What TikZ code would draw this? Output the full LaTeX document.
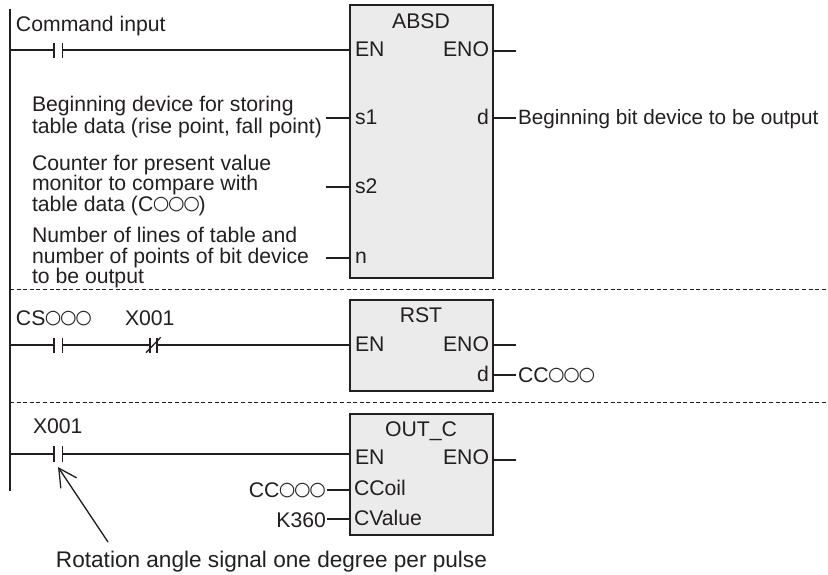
\documentclass[tikz,border=0pt]{standalone}
\usepackage{fontspec}
\setmainfont{Liberation Sans}
\newfontfamily\circfont{DejaVu Sans}
\usetikzlibrary{arrows.meta}
\definecolor{ink}{HTML}{231F20}
\definecolor{boxfill}{HTML}{EBEBEB}
\newcommand{\onecirc}{\raisebox{2pt}{\fontsize{19}{19}\circfont ○}\hspace{-1.3pt}}
\newcommand{\ooo}{\hspace{-0.6pt}\onecirc\onecirc\onecirc}
\tikzset{
  x=1pt,y=-1pt,
  every node/.style={inner sep=0pt,outer sep=0pt,text=ink,font=\fontsize{21.2}{20.5}\selectfont},
  wire/.style={draw=ink,line width=1.7pt},
  fblock/.style={draw=ink,line width=1.9pt,fill=boxfill,anchor=north west,minimum width=143pt},
  rung/.style={draw=ink,line width=0.9pt,dash pattern=on 4pt off 2.6pt},
  lbl/.style={anchor=base west},
  lblr/.style={anchor=base east},
  ttl/.style={anchor=base},
  multi/.style={anchor=west,align=left},
  pointer/.style={draw=ink,line width=1.3pt,-{Straight Barb[length=18pt,width=19pt]}}
}
\begin{document}
\begin{tikzpicture}
\useasboundingbox (0,0) rectangle (828,575);
% rail and rung separators
\coordinate (railtop) at (10,9);
\coordinate (railbot) at (10,491);
\coordinate (sep1a) at (10,289); \coordinate (sep1b) at (828,289);
\coordinate (sep2a) at (10,402); \coordinate (sep2b) at (828,402);
\draw[rung] (sep1a) -- (sep1b);
\draw[rung] (sep2a) -- (sep2b);
\draw[wire] (railtop) -- (railbot);
% blocks
\node[fblock,minimum height=273pt] (absd) at (350,5) {};
\node[fblock,minimum height=91pt] (rst) at (350,300) {};
\node[fblock,minimum height=121pt] (outc) at (350,414) {};
% rung 1
\coordinate (c1a) at (54,50); \coordinate (c1b) at (62.5,50);
\draw[wire] (10,50) -- (c1a);
\draw[wire] (c1b) -- (c1b -| absd.west);
\draw[wire] (54,43) -- (54,58);
\draw[wire] (62.5,43) -- (62.5,58);
% rung 2
\coordinate (c2a) at (54,345); \coordinate (c2b) at (62.5,345);
\coordinate (c3a) at (150,345); \coordinate (c3b) at (157,345);
\draw[wire] (10,345) -- (c2a);
\draw[wire] (c2b) -- (c3a);
\draw[wire] (c3b) -- (c3b -| rst.west);
\draw[wire] (54,338) -- (54,353);
\draw[wire] (62.5,338) -- (62.5,353);
\draw[wire] (150,338) -- (150,353);
\draw[wire] (157,338) -- (157,353);
\draw[draw=ink,line width=1.3pt] (146,352.7) -- (160.7,337.3);
% rung 3
\coordinate (c4a) at (54,453.7); \coordinate (c4b) at (62.5,453.7);
\draw[wire] (10,453.7) -- (c4a);
\draw[wire] (c4b) -- (c4b -| outc.west);
\draw[wire] (54,446) -- (54,462);
\draw[wire] (62.5,446) -- (62.5,462);
% stubs
\coordinate (s1e) at (326,118); \coordinate (s2e) at (326,187); \coordinate (ne) at (326,258);
\draw[wire] (s1e) -- (s1e -| absd.west);
\draw[wire] (s2e) -- (s2e -| absd.west);
\draw[wire] (ne) -- (ne -| absd.west);
\coordinate (eno1) at (516,51); \coordinate (eno2) at (516,345); \coordinate (eno3) at (516,460);
\draw[wire] (eno1 -| absd.east) -- (eno1);
\draw[wire] (eno2 -| rst.east) -- (eno2);
\draw[wire] (eno3 -| outc.east) -- (eno3);
\coordinate (d1) at (516,118); \coordinate (d2) at (516,375);
\draw[wire] (d1 -| absd.east) -- (d1);
\draw[wire] (d2 -| rst.east) -- (d2);
\coordinate (cc) at (327,490); \coordinate (cv) at (327,519);
\draw[wire] (cc) -- (cc -| outc.west);
\draw[wire] (cv) -- (cv -| outc.west);
% texts
\node[lbl] (t1) at (16,31.5) {Command input};
\node[multi,font=\fontsize{21.2}{22}\selectfont] (t2) at (32,117) {Beginning device for storing\\table data (rise point, fall point)};
\node[multi] (t3) at (32,185.5) {Counter for present value\\monitor to compare with\\table data (C\ooo)};
\node[multi] (t4) at (32,258) {Number of lines of table and\\number of points of bit device\\to be output};
\node[ttl] at (421,28.5) {ABSD};
\node[lbl] at (355,56.5) {EN};
\node[lblr] at (489,56.5) {ENO};
\node[lbl] at (355,124.5) {s1};
\node[lbl] at (355,193.5) {s2};
\node[lbl] at (355,263.5) {n};
\node[lblr] at (489,124.5) {d};
\node[lbl,font=\fontsize{20.7}{20.5}\selectfont] at (518,125) {Beginning bit device to be output};
\node[lbl] at (16,325) {CS\ooo};
\node[lbl] at (125,325) {X001};
\node[ttl] at (421,322.5) {RST};
\node[lbl] at (355,351.5) {EN};
\node[lblr] at (489,351.5) {ENO};
\node[lblr] at (489,381.5) {d};
\node[lbl] at (518,382.5) {CC\ooo};
\node[lbl] at (33,433) {X001};
\node[ttl] at (421,436.5) {OUT\_C};
\node[lbl] at (355,464.5) {EN};
\node[lblr] at (489,464.5) {ENO};
\node[lbl] at (354,495.5) {CCoil};
\node[lbl] at (354,525.5) {CValue};
\node[lblr] at (326,497) {CC\ooo};
\node[lblr] at (326,527) {K360};
\node[lbl,font=\fontsize{22.6}{22}\selectfont] (rot) at (56,567) {Rotation angle signal one degree per pulse};
\coordinate (tip) at (58,467);
\draw[pointer] (108,542) -- (tip);
\end{tikzpicture}
\end{document}
